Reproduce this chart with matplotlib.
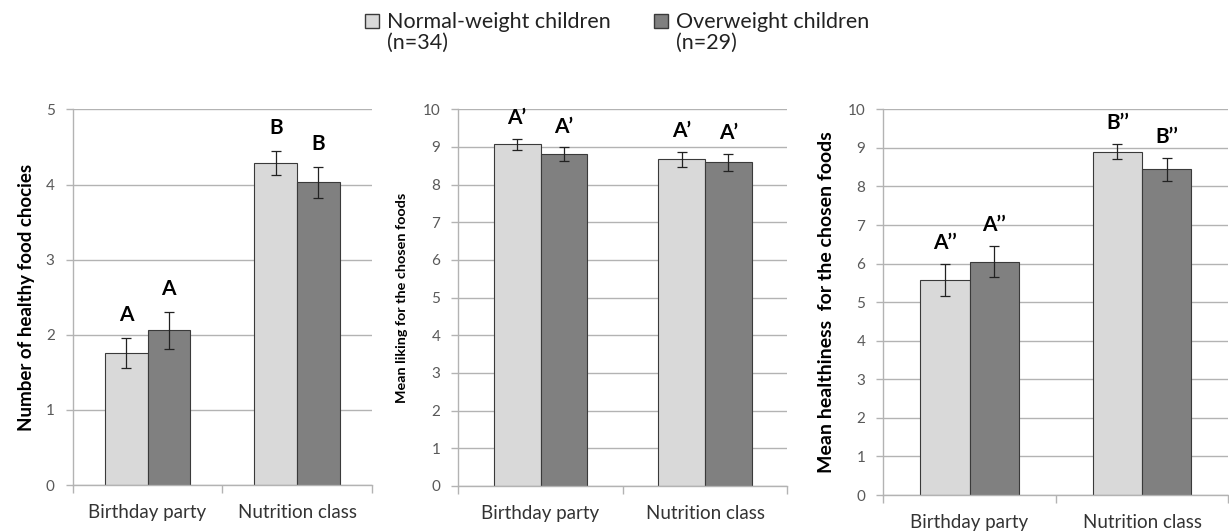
"""Three-panel bar chart: healthy food choices, liking and healthiness by context and weight group."""
import numpy as np, matplotlib
matplotlib.use("Agg")
import matplotlib.pyplot as plt
from matplotlib.patches import Rectangle

plt.rcParams.update({"font.family": ["Lato", "DejaVu Sans"]})

contexts = ["Birthday party", "Nutrition class"]
groups = ["Normal-weight children\n(n=34)", "Overweight children\n(n=29)"]

# panel 1: number of healthy food choices
choices_normal = [1.76, 4.29]
choices_normal_err = [0.20, 0.16]
choices_over = [2.06, 4.03]
choices_over_err = [0.25, 0.21]
choices_letters = [["A", "B"], ["A", "B"]]

# panel 2: mean liking
liking_normal = [9.07, 8.67]
liking_normal_err = [0.15, 0.21]
liking_over = [8.81, 8.59]
liking_over_err = [0.18, 0.23]
liking_letters = [["A\u2019", "A\u2019"], ["A\u2019", "A\u2019"]]

# panel 3: mean healthiness
health_normal = [5.58, 8.90]
health_normal_err = [0.41, 0.19]
health_over = [6.05, 8.44]
health_over_err = [0.40, 0.29]
health_letters = [["A\u2019\u2019", "B\u2019\u2019"], ["A\u2019\u2019", "B\u2019\u2019"]]

LIGHT, DARK, EDGE = "#d9d9d9", "#808080", "#3a3a3a"
GRID, TICK = "#b3b3b3", "#595959"
W, H = 1229, 532


def panel(ax, normal, nerr, over, oerr, letters, ymax, ylabel, ylsize, loff):
    x = np.arange(len(contexts))
    w = 0.285
    ax.bar(x - w / 2, normal, w, color=LIGHT, edgecolor=EDGE, lw=0.8, zorder=2)
    ax.bar(x + w / 2, over, w, color=DARK, edgecolor=EDGE, lw=0.8, zorder=2)
    ax.errorbar(x - w / 2, normal, yerr=nerr, fmt="none", ecolor="#222222", elinewidth=0.9, capsize=3.5, capthick=0.9, zorder=3)
    ax.errorbar(x + w / 2, over, yerr=oerr, fmt="none", ecolor="#222222", elinewidth=0.9, capsize=3.5, capthick=0.9, zorder=3)
    for i in range(len(contexts)):
        ax.text(x[i] - w / 2, normal[i] + nerr[i] + loff, letters[0][i], ha="center", va="center",
                fontsize=15, fontweight="bold")
        ax.text(x[i] + w / 2, over[i] + oerr[i] + loff, letters[1][i], ha="center", va="center",
                fontsize=15, fontweight="bold")
    ax.set_xlim(-0.5, len(contexts) - 0.5)
    ax.set_ylim(0, ymax)
    ax.set_yticks(np.arange(0, ymax + 1))
    ax.yaxis.grid(True, color=GRID, lw=1.0, zorder=0)
    ax.set_axisbelow(True)
    for s in ["top", "right"]:
        ax.spines[s].set_visible(False)
    for s in ["left", "bottom"]:
        ax.spines[s].set_color(GRID)
        ax.spines[s].set_linewidth(1.0)
    ax.set_xticks(np.arange(len(contexts) + 1) - 0.5)
    ax.set_xticklabels([])
    ax.set_xticks(x, minor=True)
    ax.set_xticklabels(contexts, minor=True, fontsize=13.5, color="#333333")
    ax.tick_params(axis="x", which="major", length=6, color=GRID, width=1.0)
    ax.tick_params(axis="x", which="minor", length=0, pad=14)
    ax.tick_params(axis="y", length=5, color=GRID, width=1.0, labelsize=11, labelcolor=TICK, pad=8)
    ax.set_ylabel(ylabel, fontsize=ylsize, fontweight="bold")


fig = plt.figure(figsize=(W / 100, H / 100), dpi=100)
ax1 = fig.add_axes([0.0592, 0.0883, 0.2433, 0.706])
ax2 = fig.add_axes([0.3729, 0.0865, 0.2677, 0.708])
ax3 = fig.add_axes([0.7187, 0.0695, 0.2807, 0.725])

panel(ax1, choices_normal, choices_normal_err, choices_over, choices_over_err, choices_letters,
      5, "Number of healthy food chocies", 13.5, 0.30)
panel(ax2, liking_normal, liking_normal_err, liking_over, liking_over_err, liking_letters,
      10, "Mean liking for the chosen foods", 10.4, 0.55)
panel(ax3, health_normal, health_normal_err, health_over, health_over_err, health_letters,
      10, "Mean healthiness  for the chosen foods", 14, 0.55)
ax1.yaxis.set_label_coords(-0.126, 0.5)
ax2.yaxis.set_label_coords(-0.153, 0.5)
ax3.yaxis.set_label_coords(-0.14, 0.5)

# legend drawn by hand: square key beside the first line, second line below
for label, color, px in zip(groups, [LIGHT, DARK], [365, 654]):
    fig.patches.append(Rectangle((px / W, 1 - 28 / H), 14 / W, 14 / H, transform=fig.transFigure,
                                 facecolor=color, edgecolor=EDGE, lw=1.0))
    for k, line in enumerate(label.split("\n")):
        fig.text((px + 22) / W, 1 - (28 + 21 * k) / H, line, fontsize=15.5, color="#222222",
                 ha="left", va="baseline")

fig.savefig("out.png", dpi=100)
print("wrote out.png")
